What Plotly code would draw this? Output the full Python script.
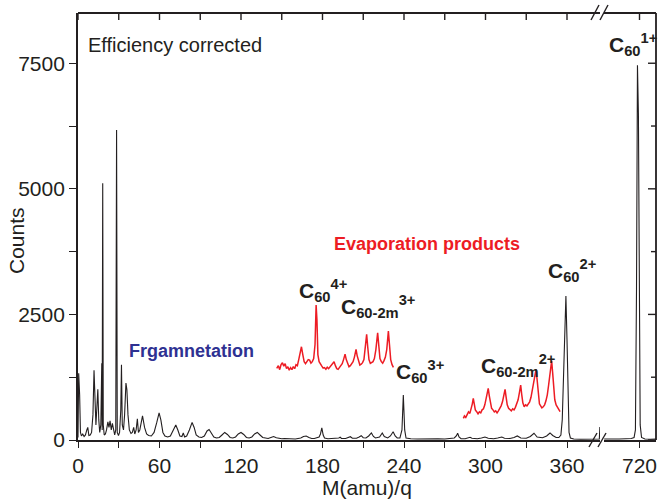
import plotly.graph_objects as go

# ---------------- data ----------------
# black spectrum, low-mass segment (M/q 0..384)
black_x = [0, 0.5, 1.2, 1.8, 2.5, 3.5, 4.5, 5.5, 6.5, 7.2, 8, 9, 10, 11, 11.8, 12.5, 13.2, 14, 14.6, 15.3,
           16, 16.8, 17.5, 17.8, 18.2, 18.6, 19.3, 20.2, 21, 22, 22.8, 23.6, 24.5, 25.3, 26.2, 27, 27.8, 28.4,
           28.9, 29.8, 30.6, 31.5, 32, 32.6, 33.5, 34.3, 35.3, 36, 36.8, 37.8, 39, 40, 41, 41.8, 42.8, 43.7,
           44.5, 45.5, 47.5, 49, 50.5, 52, 54, 56, 58, 59.7, 61, 62.5, 64, 66, 68, 70, 72, 73.5, 75, 76.5,
           77.5, 78.5, 80, 82, 84, 85.5, 87, 89, 91, 93, 95, 96.5, 98, 100, 102, 104, 106, 108, 110, 112, 114,
           116, 118, 120, 122, 124, 126, 128, 130, 132, 134, 136, 138, 140, 142, 144, 146, 148, 150, 152, 154,
           156, 158, 160, 162, 164, 166, 168, 170, 172, 174, 176, 177.5, 178.5, 179.5, 180.5, 181.5, 184, 187,
           190, 192, 193, 194, 197, 199, 200.5, 202, 205, 207, 208.5, 210, 212, 214, 216, 217.5, 219, 222, 224,
           225.5, 228, 230, 232, 233.5, 235, 237, 238.5, 239.5, 240.5, 241.5, 245, 250, 255, 260, 265, 270, 274,
           277, 278.5, 279.5, 280.5, 282, 285, 287, 288.6, 290, 294, 297, 299.6, 302, 306, 309, 312, 314, 318,
           321, 323.4, 326, 330, 333, 335.7, 338, 342, 345, 347.5, 349.5, 352, 354, 355.5, 356.5, 357.5, 358.5,
           359.2, 360, 360.8, 361.5, 362.5, 365, 370, 375, 380, 383.8, 384.2]
black_y = [50, 1330, 900, 150, 80, 120, 70, 100, 200, 250, 90, 100, 150, 500, 1390, 900, 300, 700, 1010, 400,
           150, 300, 1530, 200, 5110, 300, 100, 120, 200, 360, 250, 380, 200, 330, 150, 100, 200, 6170,
           150, 90, 150, 600, 1500, 300, 200, 500, 1134, 1000, 500, 200, 130, 150, 250, 120, 200, 420,
           150, 200, 480, 250, 120, 90, 80, 150, 350, 540, 400, 150, 80, 60, 80, 180, 300, 200, 80, 70,
           140, 60, 80, 200, 350, 250, 100, 60, 50, 80, 180, 210, 140, 60, 40, 50, 100, 150, 110, 50, 40,
           60, 120, 150, 110, 50, 40, 60, 120, 150, 100, 50, 40, 30, 50, 70, 45, 30, 25, 30, 25,
           35, 25, 20, 30, 40, 70, 80, 50, 30, 30, 40, 60, 120, 240, 100, 40, 25, 30,
           25, 40, 55, 30, 30, 50, 65, 35, 35, 60, 85, 45, 40, 80, 140, 70, 40, 60, 140,
           70, 40, 80, 165, 80, 40, 40, 200, 895, 200, 40, 25, 20, 25, 20, 25, 20, 25,
           40, 80, 135, 60, 25, 25, 40, 55, 35, 25, 40, 60, 35, 25, 40, 60, 35, 30,
           50, 80, 40, 35, 70, 135, 60, 45, 80, 140, 90, 50, 50, 100, 400, 1500, 2700,
           2865, 2000, 600, 150, 40, 20, 15, 20, 15, 20, 260]

# black spectrum, high-mass segment (after the axis break)
black2_x = [694, 700, 705, 710, 714, 716, 717, 717.8, 718.5, 719.2, 719.8, 720.5, 721.5, 724, 728, 733]
black2_y = [20, 15, 20, 25, 30, 50, 200, 3000, 7460, 6500, 2000, 300, 50, 20, 15, 20]

# red insets: evaporation products (C60^4+ / C60-2m^3+ region)
red1_x = [146.3, 147.5, 148.5, 149.5, 150.5, 151.5, 152.5, 153.5, 154.5, 155.5, 156.5, 157.5, 158.5, 159.5,
          160.5, 161.5, 162.5, 163.5, 164.5, 165.5, 166.5, 167.5, 168.5, 169.5, 170.5, 171.5, 172.5, 173.5,
          174.5, 175.3, 175.9, 176.6, 177.5, 178.5, 179.5, 180.5, 181.5, 182.5, 183.5, 184.5, 185.5, 186.5,
          187.5, 188.5, 189.5, 190.5, 191.5, 192.5, 193.5, 194.5, 195.5, 196.6, 197.5, 198.5, 199.5, 200.5,
          201.5, 202.5, 203.5, 204.7, 205.5, 206.5, 207.5, 208.5, 209.5, 210.5, 211.5, 212.5, 213.3, 214.2,
          215.2, 216.2, 217.2, 218.2, 219.3, 220.6, 221.4, 222.3, 223.3, 224.3, 225.3, 226.3, 227.3, 228.5,
          229.3, 230.2, 231.2, 232.2]
red1_y = [1426, 1480, 1400, 1500, 1538, 1470, 1520, 1420, 1460, 1390, 1440, 1400, 1460, 1420,
          1500, 1480, 1600, 1720, 1856, 1700, 1560, 1520, 1560, 1600, 1591, 1530, 1560, 1620,
          1900, 2685, 2400, 1700, 1560, 1500, 1470, 1430, 1440, 1410, 1450, 1420, 1460, 1490,
          1530, 1557, 1480, 1420, 1406, 1440, 1470, 1520, 1600, 1710, 1600, 1510, 1458, 1480,
          1510, 1560, 1650, 1804, 1680, 1560, 1492, 1510, 1540, 1600, 1800, 2102, 1850, 1600,
          1525, 1540, 1560, 1620, 1800, 2135, 1850, 1620, 1560, 1530, 1580, 1650, 1800, 2168,
          1900, 1600, 1500, 1446]

# red insets: evaporation products (C60-2m^2+ region)
red2_x = [283.7, 284.5, 285.5, 286.5, 287.5, 288.5, 289.5, 290.3, 291, 291.8, 292.5, 293.5, 294.5, 295.5,
          296.5, 297.5, 298.5, 299.5, 300.5, 301.3, 302, 302.8, 303.6, 304.5, 305.5, 306.5, 307.5, 308.5,
          309.5, 310.5, 311.5, 312.5, 313.5, 314.4, 315.2, 316, 317, 318, 319, 320, 321, 322, 323, 324, 325,
          325.9, 326.7, 327.5, 328.5, 329.5, 330.5, 331.5, 332.5, 333.5, 334.5, 335.5, 336.5, 337.2, 338,
          338.8, 339.7, 340.6, 341.5, 342.5, 343.5, 344.5, 345.5, 346.5, 347.5, 348.2, 348.7, 349.4, 350.2,
          351, 352, 353, 354, 354.9]
red2_y = [431, 480, 450, 520, 560, 530, 620, 720, 829, 700, 600, 563, 520, 560,
          540, 600, 620, 700, 820, 960, 1028, 880, 720, 630, 600, 560, 580, 540,
          580, 620, 680, 760, 900, 1008, 850, 700, 630, 600, 580, 620, 600, 650, 720, 800, 950,
          1094, 900, 740, 663, 700, 680, 720, 760, 850, 1000, 1150, 1300, 1406, 1200,
          900, 720, 680, 640, 660, 700, 780, 900, 1100, 1350, 1500, 1578, 1350, 1000,
          800, 700, 660, 620, 563]

# tick positions / labels
x1_ticks = [0, 60, 120, 180, 240, 300, 360]
x1_minor = [30, 90, 150, 210, 270, 330]
x2_ticks = [720]
y_ticks = [0, 2500, 5000, 7500]
y_minor = [1250, 3750, 6250]

# ---------------- layout geometry ----------------
W, H = 659, 500
L, R, T, B = 78, 656, 13, 440          # plot area in pixels
PXU = 489 / 360.0                        # pixels per M/q unit
brk1, brk2 = 600, 604                    # break gap in pixels
x1_range = [0, (brk1 - L) / PXU]
x2_range = [720 - (639.5 - brk2) / PXU, 720 + (R - 639.5) / PXU]
d1 = (brk1 - L) / (R - L)
d2 = (brk2 - L) / (R - L)
y_range = [0, 8500]


def px(xp):
    return (xp - L) / (R - L)


def py(yp):
    return (B - yp) / (B - T)


def all_ticks(major, minor):
    vals = sorted(major + minor)
    text = [str(v) if v in major else "" for v in vals]
    return vals, text


x1_vals, x1_text = all_ticks(x1_ticks, x1_minor)
y_vals, y_text = all_ticks(y_ticks, y_minor)

BLACK = "#231f20"
RED = "#ed1c24"
FONT = "Liberation Sans, Arial, sans-serif"
LW = 1.8

fig = go.Figure()
fig.add_trace(go.Scatter(x=black_x, y=black_y, mode="lines", line=dict(color=BLACK, width=1.1),
                         xaxis="x", yaxis="y", hoverinfo="skip"))
fig.add_trace(go.Scatter(x=red1_x, y=red1_y, mode="lines", line=dict(color=RED, width=1.5),
                         xaxis="x", yaxis="y", hoverinfo="skip"))
fig.add_trace(go.Scatter(x=red2_x, y=red2_y, mode="lines", line=dict(color=RED, width=1.5),
                         xaxis="x", yaxis="y", hoverinfo="skip"))
fig.add_trace(go.Scatter(x=black2_x, y=black2_y, mode="lines", line=dict(color=BLACK, width=1.1),
                         xaxis="x2", yaxis="y", hoverinfo="skip"))

tickfont = dict(family=FONT, size=21, color=BLACK)
common = dict(showgrid=False, zeroline=False, showline=True, linecolor=BLACK, linewidth=LW,
              tickcolor=BLACK, tickwidth=1.4, tickfont=tickfont)

fig.update_layout(
    width=W, height=H, showlegend=False,
    margin=dict(l=L, r=W - R, t=T, b=H - B, pad=0),
    plot_bgcolor="rgba(0,0,0,0)", paper_bgcolor="white",
    xaxis=dict(domain=[0, d1], range=x1_range, anchor="y", tickmode="array", tickvals=x1_vals,
               ticktext=x1_text, ticks="outside", ticklen=6, **common),
    xaxis2=dict(domain=[d2, 1], range=x2_range, anchor="y", tickmode="array", tickvals=x2_ticks,
                ticks="outside", ticklen=6, **common),
    yaxis=dict(domain=[0, 1], range=y_range, anchor="x", tickmode="array", tickvals=y_vals,
               ticktext=y_text, ticks="outside", ticklen=7, **common),
)

frame = dict(color=BLACK, width=LW)
tick = dict(color=BLACK, width=1.4)
# top frame (both segments) and right frame
fig.add_shape(type="line", xref="paper", yref="paper", x0=0, x1=d1, y0=1, y1=1, line=frame, layer="above")
fig.add_shape(type="line", xref="paper", yref="paper", x0=d2, x1=1, y0=1, y1=1, line=frame, layer="above")
fig.add_shape(type="line", xref="paper", yref="paper", x0=1, x1=1, y0=0, y1=1, line=frame, layer="above")
# inward ticks on the top frame, placed through the x scales
for v in x1_vals:
    fig.add_shape(type="line", xref="x", yref="paper", x0=v, x1=v, y0=1, y1=1 - 7 / (B - T), line=tick)
for v in x2_ticks:
    fig.add_shape(type="line", xref="x2", yref="paper", x0=v, x1=v, y0=1, y1=1 - 7 / (B - T), line=tick)
# inward ticks on the right frame, placed through the y scale
for v in y_vals:
    tl = 8 if v in y_ticks else 5
    fig.add_shape(type="line", xref="paper", yref="y", x0=1, x1=1 - tl / (R - L), y0=v, y1=v, line=tick)

# axis-break marks "//" (bottom and top)
for (x0, y0, x1, y1) in [(589, 447, 597, 433), (598, 447, 606, 433),
                         (591, 20, 599, 5), (600, 20, 608, 5)]:
    fig.add_shape(type="line", xref="paper", yref="paper", x0=px(x0), y0=py(y0), x1=px(x1), y1=py(y1),
                  line=tick)


def ann(text, xp, yp, size, color=BLACK, xanchor="left", angle=0):
    fig.add_annotation(text=text, xref="paper", yref="paper", x=px(xp), y=py(yp), showarrow=False,
                       xanchor=xanchor, yanchor="middle", textangle=angle,
                       font=dict(family=FONT, size=size, color=color))


ann("Efficiency corrected", 86, 45, 20)
ann("<b>Frgamnetation</b>", 127, 351, 18, color="#2e3192")
ann("<b>Evaporation products</b>", 332, 244, 18, color=RED)
ann("<b>C<sub>60</sub><sup>4+</sup></b>", 297, 290, 21)
ann("<b>C<sub>60-2m</sub><sup>3+</sup></b>", 339, 306, 21)
ann("<b>C<sub>60</sub><sup>3+</sup></b>", 394, 371, 21)
ann("<b>C<sub>60-2m</sub><sup>2+</sup></b>", 479, 365, 21)
ann("<b>C<sub>60</sub><sup>2+</sup></b>", 546, 270, 21)
ann("<b>C<sub>60</sub><sup>1+</sup></b>", 607, 45, 21)
ann("M(amu)/q", 367, 488, 21, xanchor="center")
ann("Counts", 17, 241, 21, xanchor="center", angle=-90)

fig.write_html("out.html", config={"displayModeBar": False},
               post_script="document.body.style.margin='0px';")
